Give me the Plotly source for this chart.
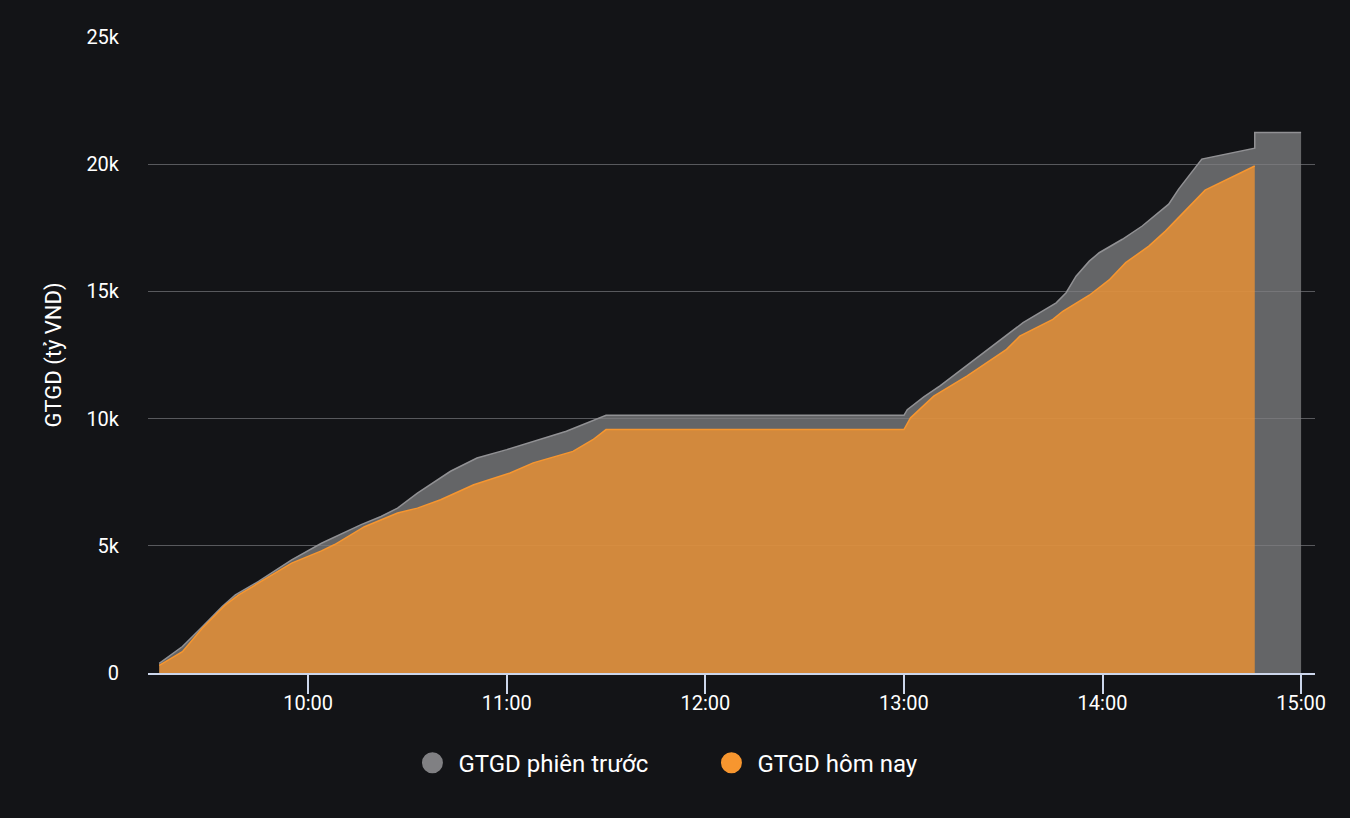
import plotly.graph_objects as go

DAY = "2024-01-01 "

prev_times = ["09:15", "09:22", "09:28", "09:34", "09:38", "09:45", "09:55", "10:04",
              "10:16", "10:22", "10:27", "10:33", "10:43", "10:51", "11:00", "11:10", "11:18",
              "11:30", "13:00", "13:01", "13:06", "13:11", "13:16", "13:26", "13:36", "13:46",
              "13:49", "13:52", "13:56", "13:59", "14:06", "14:12", "14:20", "14:23",
              "14:30", "14:46", "14:46", "15:00"]
prev_values = [380, 1040, 1820, 2610, 3070, 3600, 4450, 5100,
               5830, 6150, 6480, 7070, 7930, 8450, 8780, 9170, 9500,
               10130, 10130, 10350, 10850, 11300, 11800, 12800, 13770, 14550,
               14950, 15600, 16190, 16520, 17050, 17570, 18430, 19020,
               20200, 20630, 21250, 21250]

today_times = ["09:15", "09:22", "09:28", "09:35", "09:39", "09:45", "09:55", "10:04",
               "10:08", "10:17", "10:27", "10:33", "10:40", "10:50", "11:01", "11:08",
               "11:20", "11:26", "11:30", "13:00", "13:02", "13:09", "13:19", "13:31",
               "13:35", "13:45", "13:48", "13:56", "14:02", "14:07", "14:14", "14:19",
               "14:23", "14:31", "14:46"]
today_values = [300, 840, 1760, 2680, 3070, 3530, 4320, 4800,
                5050, 5750, 6290, 6480, 6810, 7400, 7860, 8260,
                8710, 9170, 9570, 9570, 10030, 10880, 11670, 12720,
                13240, 13900, 14220, 14850, 15450, 16130, 16780, 17370,
                17900, 18980, 19930]

x_ticks = ["10:00", "11:00", "12:00", "13:00", "14:00", "15:00"]
series_names = ["GTGD phiên trước", "GTGD hôm nay"]
y_title = "GTGD (tỷ VND)"

BG = "#131417"
GREY = "rgb(128,128,131)"
ORANGE = "rgb(247,150,47)"
FONT = "Roboto"

fig = go.Figure()
fig.add_trace(go.Scatter(
    x=[DAY + t for t in prev_times], y=prev_values, mode="lines",
    line=dict(color="rgb(145,145,148)", width=1.5),
    fill="tozeroy", fillcolor="rgba(128,128,131,0.75)",
    showlegend=False, hoverinfo="skip"))
fig.add_trace(go.Scatter(
    x=[DAY + t for t in today_times], y=today_values, mode="lines",
    line=dict(color=ORANGE, width=1.5),
    fill="tozeroy", fillcolor="rgba(247,150,47,0.75)",
    showlegend=False, hoverinfo="skip"))

for name, col in zip(series_names, [GREY, ORANGE]):
    fig.add_trace(go.Scatter(x=[None], y=[None], mode="markers", name="\u00a0" + name,
                             marker=dict(color=col, size=16, symbol="circle",
                                         line=dict(color=col, width=6))))

fig.update_layout(
    width=1350, height=818,
    paper_bgcolor=BG, plot_bgcolor=BG,
    margin=dict(l=148, r=35, t=37, b=145),
    font=dict(family=FONT, color="#ffffff", size=20),
    legend=dict(orientation="h", xref="container", yref="container",
                x=0.527, xanchor="center", y=0.067, yanchor="middle",
                font=dict(size=24, color="#ffffff"), itemsizing="trace",
                entrywidth=254, bgcolor="rgba(0,0,0,0)"),
    xaxis=dict(
        type="date",
        range=[DAY + "09:11:36", DAY + "15:04:12"],
        tickvals=[DAY + t for t in x_ticks], ticktext=x_ticks,
        showgrid=False, zeroline=False,
        showline=True, linecolor="#ccd6eb", linewidth=2,
        ticks="outside", ticklen=19, tickwidth=2, tickcolor="#ccd6eb",
        ticklabelstandoff=-8,
        tickfont=dict(size=20, color="#ffffff"),
    ),
    yaxis=dict(
        range=[0, 25000], dtick=5000, tickformat="~s",
        showgrid=True, gridcolor="#58595d", gridwidth=1.3,
        zeroline=False, showline=False, ticks="",
        ticklabelstandoff=28,
        tickfont=dict(size=20, color="#ffffff"),
        title=dict(text=y_title, font=dict(size=22, color="#ffffff"), standoff=18),
    ),
)

fig.write_html(
    "out.html",
    config={"displayModeBar": False},
    post_script="document.body.style.margin='0';document.body.style.background='#131417';",
)
